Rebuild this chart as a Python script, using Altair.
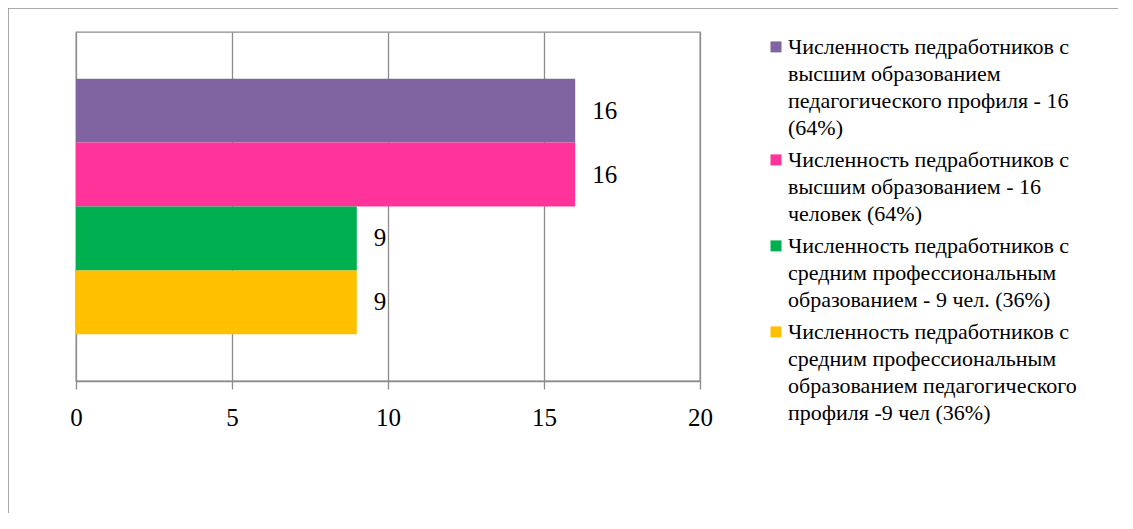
import altair as alt
import pandas as pd

categories = [
    "Численность педработников  с|высшим образованием|педагогического профиля - 16|(64%)",
    "Численность педработников с|высшим образованием - 16|человек (64%)",
    "Численность педработников с|средним профессиональным|образованием - 9 чел.  (36%)",
    "Численность педработников с|средним профессиональным|образованием педагогического|профиля -9 чел (36%)",
]
values = [16, 16, 9, 9]
colors = ["#8064A2", "#FF3399", "#00B050", "#FFC000"]
ticks = [0, 5, 10, 15, 20]

df = pd.DataFrame({"cat": categories, "value": values})
font = "Liberation Serif"
gray = "#8C8C8C"

y = alt.Y("cat:N", sort=categories, axis=None,
          scale=alt.Scale(paddingInner=0, paddingOuter=0.73))

bars = alt.Chart(df).mark_bar().encode(
    x=alt.X("value:Q", scale=alt.Scale(domain=[0, 20], nice=False),
            axis=alt.Axis(values=ticks, title=None, grid=True, gridColor=gray, gridWidth=1.3,
                          domainColor=gray, domainWidth=1.3, tickColor=gray, tickWidth=1.3,
                          tickSize=8, labelFont=font, labelFontSize=25,
                          labelColor="black", labelPadding=16, labelFlush=False)),
    y=y,
    color=alt.Color("cat:N", scale=alt.Scale(domain=categories, range=colors),
                    legend=alt.Legend(title=None, orient="none", legendX=689, legendY=-6,
                                      labelExpr="split(datum.label, '|')",
                                      labelFont=font, labelFontSize=22, labelColor="black",
                                      labelLimit=600, labelBaseline="top", labelOffset=1,
                                      symbolType="M-1,0.8H1V2.8H-1Z", symbolSize=121,
                                      symbolStrokeWidth=0,
                                      symbolOpacity=1, gridAlign="each", rowPadding=0,
                                      padding=0)),
)

text = alt.Chart(df).mark_text(align="left", baseline="middle", dx=17, font=font,
                               fontSize=25, color="black").encode(
    x="value:Q", y=y, text="value:Q")

one = pd.DataFrame({"b": [0]})
top_line = alt.Chart(one).mark_rule(color=gray, strokeWidth=1.5).encode(
    x=alt.value(-68), x2=alt.value(1100), y=alt.value(-24))
left_line = alt.Chart(one).mark_rule(color=gray, strokeWidth=1.5).encode(
    x=alt.value(-68), y=alt.value(-24), y2=alt.value(520))

chart = alt.layer(top_line, left_line, bars, text).properties(
    width=624, height=349,
    autosize=alt.AutoSizeParams(type="none"),
    padding={"left": 68, "top": 24, "right": 418, "bottom": 132},
).configure(
    font=font,
    style={"guide-label": {"lineHeight": 27, "font": font}},
    view=alt.ViewConfig(stroke=gray, strokeWidth=1.3),
)

chart.save("out.html", embed_options={"renderer": "svg", "actions": False})
